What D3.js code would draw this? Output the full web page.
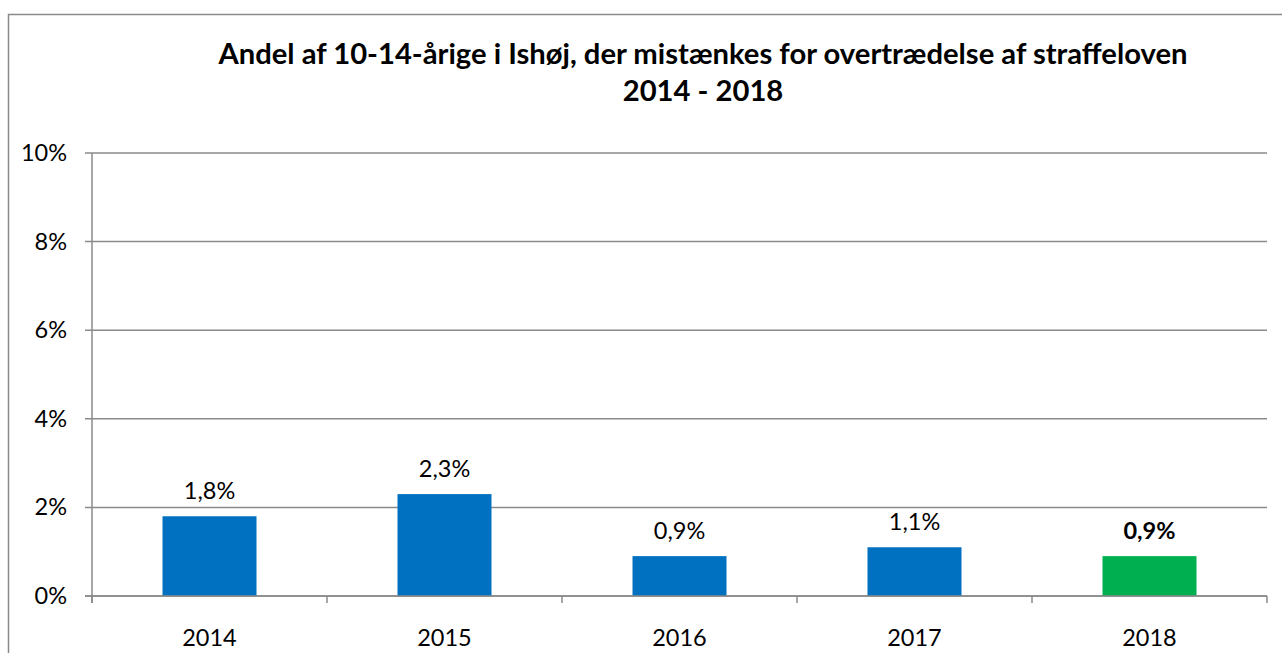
<!DOCTYPE html>
<html>
<head>
<meta charset="utf-8">
<script src="https://cdn.jsdelivr.net/npm/d3@7"></script>
<style>
  body { margin: 0; background: #fff; }
  svg text { font-family: Lato, "Open Sans", sans-serif; fill: #000; }
</style>
</head>
<body>
<div id="chart"></div>
<script>
const years = ['2014', '2015', '2016', '2017', '2018']
const shares = [1.8, 2.3, 0.9, 1.1, 0.9]
const barColors = ['#0070C0', '#0070C0', '#0070C0', '#0070C0', '#00B050']
const yTicks = [0, 2, 4, 6, 8, 10]
const titleLines = ['Andel af 10-14-årige i Ishøj, der mistænkes for overtrædelse af straffeloven', '2014 - 2018']

const W = 1282, H = 653
const plot = { left: 92, right: 1267, top: 153, bottom: 596 }

const svg = d3.select('#chart').append('svg')
  .attr('width', W)
  .attr('height', H)

// outer chart frame (left + top edges visible)
svg.append('path')
  .attr('d', `M8.5,${H} V14.5 H${W}`)
  .attr('fill', 'none')
  .attr('stroke', '#8a8a8a')
  .attr('stroke-width', 1.5)

// title
svg.append('g').selectAll('text')
  .data(titleLines)
  .join('text')
  .attr('x', 703)
  .attr('y', (d, i) => 64 + i * 37)
  .attr('text-anchor', 'middle')
  .attr('font-size', 29.2)
  .attr('font-weight', 'bold')
  .text(d => d)

const x = d3.scaleBand()
  .domain(years)
  .range([plot.left, plot.right])
  .paddingInner(0.6)
  .paddingOuter(0.3)

const y = d3.scaleLinear()
  .domain([0, 10])
  .range([plot.bottom, plot.top])

// gridlines + y labels
const grid = svg.append('g')
grid.selectAll('line')
  .data(yTicks)
  .join('line')
  .attr('x1', plot.left - 7)
  .attr('x2', plot.right)
  .attr('y1', d => y(d))
  .attr('y2', d => y(d))
  .attr('stroke', '#8a8a8a')
  .attr('stroke-width', 1.5)

grid.selectAll('text')
  .data(yTicks)
  .join('text')
  .attr('x', 67)
  .attr('y', d => y(d) + 8)
  .attr('text-anchor', 'end')
  .attr('font-size', 23.5)
  .text(d => d + '%')

// y axis line
svg.append('line')
  .attr('x1', plot.left).attr('x2', plot.left)
  .attr('y1', plot.top).attr('y2', plot.bottom + 7)
  .attr('stroke', '#8a8a8a')
  .attr('stroke-width', 1.5)

// bars
svg.append('g').selectAll('rect')
  .data(years)
  .join('rect')
  .attr('x', d => x(d))
  .attr('width', x.bandwidth())
  .attr('y', (d, i) => y(shares[i]))
  .attr('height', (d, i) => y(0) - y(shares[i]))
  .attr('fill', (d, i) => barColors[i])

// x axis ticks at category boundaries
const bounds = d3.range(years.length + 1).map(i => plot.left + i * (plot.right - plot.left) / years.length)
svg.append('g').selectAll('line')
  .data(bounds)
  .join('line')
  .attr('x1', d => d).attr('x2', d => d)
  .attr('y1', plot.bottom).attr('y2', plot.bottom + 7)
  .attr('stroke', '#8a8a8a')
  .attr('stroke-width', 1.5)

// baseline over the bars
svg.append('line')
  .attr('x1', plot.left - 7).attr('x2', plot.right)
  .attr('y1', plot.bottom).attr('y2', plot.bottom)
  .attr('stroke', '#8a8a8a')
  .attr('stroke-width', 1.5)

// x labels
svg.append('g').selectAll('text')
  .data(years)
  .join('text')
  .attr('x', d => x(d) + x.bandwidth() / 2)
  .attr('y', 646)
  .attr('text-anchor', 'middle')
  .attr('font-size', 23.5)
  .text(d => d)

// value labels
svg.append('g').selectAll('text')
  .data(years)
  .join('text')
  .attr('x', d => x(d) + x.bandwidth() / 2)
  .attr('y', (d, i) => y(shares[i]) - 17)
  .attr('text-anchor', 'middle')
  .attr('font-size', 23.5)
  .attr('font-weight', (d, i) => i === years.length - 1 ? 'bold' : 'normal')
  .text((d, i) => d3.format('.1f')(shares[i]).replace('.', ',') + '%')
</script>
</body>
</html>
